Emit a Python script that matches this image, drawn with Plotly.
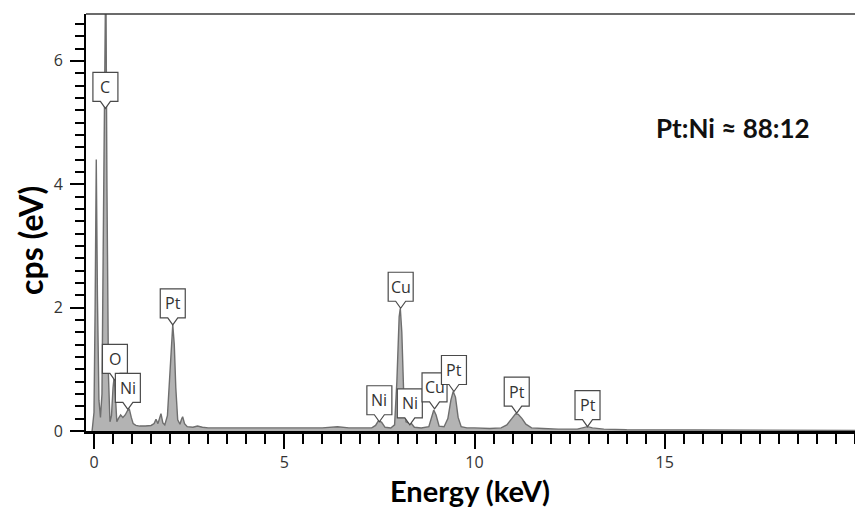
import plotly.graph_objects as go

# Spectrum (energy in keV, counts in cps/eV)
energy = [-0.05, 0.0, 0.03, 0.06, 0.09, 0.13, 0.17, 0.21, 0.25, 0.29, 0.31, 0.34, 0.38, 0.42,
          0.46, 0.50, 0.53, 0.56, 0.60, 0.64, 0.70, 0.76, 0.82, 0.88, 0.93, 0.98, 1.03, 1.10,
          1.20, 1.35, 1.50, 1.58, 1.63, 1.68, 1.73, 1.76, 1.81, 1.86, 1.93, 1.99, 2.04, 2.07,
          2.11, 2.15, 2.20, 2.26, 2.30, 2.33, 2.38, 2.45, 2.60, 2.72, 2.85, 3.0, 3.5, 4.0,
          4.5, 5.0, 5.5, 6.0, 6.4, 6.7, 7.0, 7.3, 7.40, 7.48, 7.56, 7.65, 7.80, 7.90, 7.96,
          8.02, 8.05, 8.09, 8.14, 8.20, 8.27, 8.33, 8.42, 8.60, 8.80, 8.87, 8.93, 8.99, 9.07,
          9.20, 9.30, 9.38, 9.44, 9.50, 9.57, 9.65, 9.80, 10.0, 10.4, 10.7, 10.85, 10.98,
          11.08, 11.15, 11.25, 11.35, 11.50, 11.8, 12.2, 12.7, 12.85, 12.97, 13.1, 13.4,
          14.0, 15.0, 16.0, 17.0, 18.0, 19.0, 20.0]
cps = [0.0, 0.3, 2.0, 4.40, 2.2, 0.5, 0.22, 0.6, 3.5, 7.5, 7.6, 4.0, 0.9, 0.15,
       0.25, 0.70, 0.88, 0.60, 0.15, 0.20, 0.26, 0.22, 0.26, 0.33, 0.35, 0.22, 0.12, 0.09,
       0.08, 0.08, 0.09, 0.12, 0.19, 0.12, 0.22, 0.28, 0.13, 0.10, 0.25, 0.90, 1.55, 1.72,
       1.40, 0.70, 0.18, 0.11, 0.19, 0.23, 0.12, 0.07, 0.06, 0.08, 0.06, 0.05, 0.05, 0.05,
       0.04, 0.04, 0.05, 0.05, 0.07, 0.05, 0.05, 0.05, 0.09, 0.17, 0.14, 0.06, 0.05, 0.10, 0.80,
       1.85, 1.99, 1.60, 0.60, 0.15, 0.13, 0.13, 0.06, 0.05, 0.07, 0.22, 0.34, 0.26, 0.08,
       0.07, 0.20, 0.50, 0.64, 0.55, 0.22, 0.07, 0.05, 0.05, 0.04, 0.05, 0.10, 0.20,
       0.28, 0.27, 0.20, 0.11, 0.05, 0.04, 0.03, 0.03, 0.05, 0.07, 0.05, 0.03,
       0.02, 0.02, 0.015, 0.01, 0.01, 0.01, 0.01]

# Element labels: text, energy, height of the pointer tip
label_text = ["C", "O", "Ni", "Pt", "Ni", "Cu", "Ni", "Cu", "Pt", "Pt", "Pt"]
label_x = [0.30, 0.55, 0.89, 2.07, 7.50, 8.06, 8.30, 8.95, 9.46, 11.11, 12.97]
label_tip = [5.23, 0.82, 0.35, 1.72, 0.15, 1.99, 0.10, 0.36, 0.64, 0.29, 0.07]

x_ticks = [0, 5, 10, 15]
y_ticks = [0, 2, 4, 6]
ratio_text = "Pt:Ni \u2248 88:12"

fig = go.Figure()
fig.add_trace(go.Scatter(
    x=energy, y=cps, mode="lines", fill="tozeroy",
    line=dict(color="#6e6e6e", width=1.4), fillcolor="#b3b3b3",
    hoverinfo="skip", showlegend=False))

box_path = "M 0,0 L 5,7 L 12.5,7 L 12.5,36 L -12.5,36 L -12.5,7 L -5,7 Z"
for t, lx, ly in zip(label_text, label_x, label_tip):
    fig.add_shape(type="path", xref="x", yref="y",
                  xsizemode="pixel", ysizemode="pixel",
                  xanchor=lx, yanchor=ly, path=box_path,
                  line=dict(color="#4a4a4a", width=1.2), fillcolor="white",
                  layer="above")
    fig.add_annotation(x=lx, y=ly, xref="x", yref="y", text=t, showarrow=False,
                       xanchor="center", yanchor="middle",
                       yshift=21.5, font=dict(family="Open Sans", size=16, color="#333333"))

# top border
fig.add_shape(type="line", xref="paper", yref="paper", x0=0, x1=1, y0=1, y1=1,
              line=dict(color="#3a3a3a", width=1.5))

fig.add_annotation(xref="paper", yref="paper", x=0.841, y=0.727, text="<b>" + ratio_text + "</b>",
                   xanchor="center", yanchor="middle",
                   showarrow=False, font=dict(family="Lato", size=26, color="#111111"))
fig.add_annotation(xref="paper", yref="paper", x=-0.073, y=0.458, text="<b>cps (eV)</b>",
                   xanchor="center", yanchor="middle",
                   textangle=-90, showarrow=False,
                   font=dict(family="Lato", size=32, color="#000000"))
fig.add_annotation(xref="paper", yref="paper", x=0.4993, y=-0.1415, text="<b>Energy (keV)</b>",
                   xanchor="center", yanchor="middle",
                   showarrow=False, font=dict(family="Lato", size=29, color="#000000"))

fig.update_layout(
    width=855, height=508,
    margin=dict(l=86, r=0, t=14, b=77),
    plot_bgcolor="white", paper_bgcolor="white",
    xaxis=dict(range=[-0.21, 20.0], tickvals=x_ticks, ticktext=[str(v) for v in x_ticks],
               showgrid=False, zeroline=False, showline=True, linecolor="#000000", linewidth=2.5,
               ticks="outside", ticklen=15, tickwidth=2, tickcolor="#000000",
               ticklabelstandoff=0,
               tickfont=dict(family="Open Sans", size=16, color="#333333"),
               minor=dict(dtick=0.5, tick0=0, ticklen=10, tickwidth=2, tickcolor="#000000",
                          ticks="outside", showgrid=False)),
    yaxis=dict(range=[0, 6.76], tickvals=y_ticks, ticktext=[str(v) for v in y_ticks],
               showgrid=False, zeroline=False, showline=True, linecolor="#000000", linewidth=2,
               ticks="outside", ticklen=14, tickwidth=2, tickcolor="#000000",
               ticklabelstandoff=4,
               tickfont=dict(family="Open Sans", size=16, color="#333333"),
               minor=dict(dtick=0.2, tick0=0, ticklen=9, tickwidth=2, tickcolor="#000000",
                          ticks="outside", showgrid=False)),
)

fig.write_html("out.html", config={"displayModeBar": False},
               post_script="document.body.style.margin='0';document.body.style.overflow='hidden';")
